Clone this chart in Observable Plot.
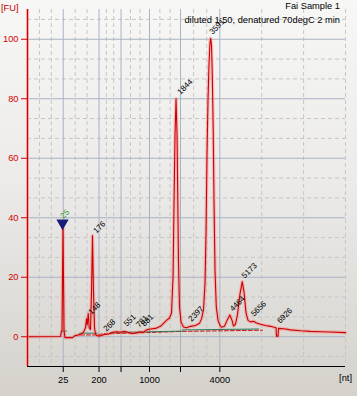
<!DOCTYPE html>
<html>
<head>
<meta charset="utf-8">
<script src="https://cdn.jsdelivr.net/npm/d3@7"></script>
<script src="https://cdn.jsdelivr.net/npm/@observablehq/plot@0.6"></script>
<style>
  html, body { margin: 0; padding: 0; }
  body { width: 357px; height: 396px; overflow: hidden;
         background: linear-gradient(to bottom, #f7f7f6 0%, #ecebea 45%, #d5d2cc 100%);
         font-family: "Liberation Sans", Arial, sans-serif; }
  #wrap { position: relative; width: 357px; height: 396px; }
  .lbl { position: absolute; font-size: 9.3px; line-height: 10px; white-space: nowrap; }
</style>
</head>
<body>
<div id="wrap">
  <div id="chart"></div>
  <div class="lbl" style="left:1px; top:3px; color:#c00000;">[FU]</div>
  <div class="lbl" style="right:17px; top:1px; color:#000;">Fai Sample 1</div>
  <div class="lbl" style="right:17px; top:15px; color:#000;">diluted 1:50, denatured 70degC 2 min</div>
</div>
<script>
// Migration time (s) and fluorescence (FU) of the electropherogram trace
const traceTime = [20.00, 24.95, 25.06, 25.18, 25.25, 25.33, 25.40, 25.48, 25.63, 26.75, 27.05, 27.95, 28.40, 28.70, 28.85, 28.96, 29.11, 29.26, 29.45, 29.60, 29.75, 29.90, 30.05, 30.20, 30.50, 30.95, 31.55, 32.15, 32.75, 33.35, 33.95, 34.55, 35.15, 35.75, 36.35, 36.80, 37.40, 37.85, 38.45, 39.20, 39.95, 40.40, 40.85, 41.30, 41.60, 41.83, 41.98, 42.13, 42.28, 42.43, 42.55, 42.65, 42.80, 43.03, 43.40, 43.85, 44.45, 45.20, 45.80, 46.10, 46.40, 46.63, 46.78, 46.93, 47.08, 47.23, 47.38, 47.48, 47.60, 47.72, 47.86, 47.98, 48.13, 48.32, 48.58, 48.88, 49.10, 49.55, 49.93, 50.35, 50.68, 50.90, 51.20, 51.50, 51.88, 52.21, 52.48, 52.78, 53.08, 53.45, 53.90, 54.35, 54.95, 55.70, 56.45, 57.28, 57.35, 57.58, 57.65, 58.70, 59.45, 60.95, 62.45, 63.95, 65.45, 67.70];
const traceFU   = [0, 0.1, 1.5, 2, 20, 38.5, 20, 2, -0.3, -0.3, 0.3, 0.8, 1.5, 3, 6, 4, 7.8, 3, 2.5, 15, 34, 15, 3, 0.8, 0.3, 0.3, 0.8, 0.9, 1.5, 1.7, 1.5, 1.8, 1.4, 1.1, 1.3, 1.6, 1.5, 2.3, 2.6, 2.8, 3.5, 4.5, 5.5, 6.3, 8, 20, 45, 68, 80, 68, 45, 25, 10, 5, 3.3, 3, 3.5, 3.8, 4.5, 6, 9, 18, 35, 62, 80, 92, 99, 100.3, 98, 88, 69, 45, 22, 10, 5.5, 3.8, 3.2, 3.5, 5.5, 7.3, 5.5, 3.6, 4.2, 7.5, 14.5, 18.5, 15, 8, 5.5, 5, 5.2, 4.6, 4.2, 3.8, 3.5, 3, 0.2, 0.2, 2.8, 2.6, 2.3, 2.0, 1.8, 1.7, 1.6, 1.4];

// Peak labels (size in nt) and where they sit
const peakLabels = ["148", "176", "268", "551", "781", "881", "1844", "2397", "3591", "4464", "5173", "5656", "6926"];
const peakTime   = [29.60, 30.35, 31.85, 34.91, 36.75, 37.55, 42.95, 44.60, 47.75, 50.81, 52.60, 54.00, 57.90];
const peakFU     = [7.35, 34.6, 1.66, 3.34, 3.0, 3.34, 81.3, 5.0, 101.5, 8.4, 19.5, 6.7, 4.35];

// Lower marker
const markerLabel = ["25"];
const markerTime = [25.25];
const markerFU = [38.2];
const markerLabelTime = [25.40];
const markerLabelFU = [39.6];

// Baselines
const greenSegId   = [0, 0, 1, 1, 2, 2, 3, 3];
const greenSegTime = [25.03, 25.85, 27.80, 30.50, 32.45, 43.25, 43.25, 54.65];
const greenSegFU   = [1.9, 1.9, 1.2, 1.2, 1.4, 1.9, 2.3, 2.6];
const dashBaseTime = [27.95, 30.50, 30.95, 43.25, 55.25];
const dashBaseFU   = [0.6, 0.6, 0.9, 1.8, 2.2];

// Axis ticks
const xTickTime  = [25.36, 30.73, 34.03, 38.30, 42.95, 48.85];
const xTickLabel = ["25", "200", "", "1000", "", "4000"];
const xStart = 20, xEnd = 67.7;
const yTicks = [0, 20, 40, 60, 80, 100];

const trace = traceTime.map((t, i) => ({t, fu: traceFU[i]}));
const peaks = peakLabels.map((s, i) => ({s, t: peakTime[i], fu: peakFU[i]}));
const greens = greenSegId.map((g, i) => ({g, t: greenSegTime[i], fu: greenSegFU[i]}));
const dashBase = dashBaseTime.map((t, i) => ({t, fu: dashBaseFU[i]}));
const tickMap = new Map(xTickTime.map((t, i) => [t, xTickLabel[i]]));

// grid subdivisions: each major interval split in thirds
const bounds = [xStart, ...xTickTime, xEnd];
const minorX = [];
for (let i = 0; i < bounds.length - 1; i++) {
  const a = bounds[i], b = bounds[i + 1];
  minorX.push(a + (b - a) / 3, a + 2 * (b - a) / 3);
}
minorX.push(xEnd);
const minorY = [];
for (let k = -1; k <= 16; k++) if (k % 3 !== 0) minorY.push(k * 20 / 3);

const red = "#d40000";
const chart = Plot.plot({
  width: 357,
  height: 396,
  marginLeft: 27,
  marginRight: 12,
  marginTop: 9,
  marginBottom: 30,
  style: {background: "transparent", fontFamily: "Liberation Sans, Arial, sans-serif", fontSize: "9.3px"},
  x: {domain: [xStart, xEnd]},
  y: {domain: [-10, 110]},
  marks: [
    Plot.gridX(minorX, {stroke: "#c6c6c6", strokeOpacity: 1, strokeDasharray: "4,3"}),
    Plot.gridY(minorY, {stroke: "#c6c6c6", strokeOpacity: 1, strokeDasharray: "4,3"}),
    Plot.gridX(xTickTime, {stroke: "#a9b2c3", strokeOpacity: 1}),
    Plot.gridY(yTicks, {stroke: "#a9b2c3", strokeOpacity: 1}),
    Plot.line(dashBase, {x: "t", y: "fu", stroke: "#d01010", strokeWidth: 1, strokeDasharray: "4,2"}),
    Plot.line(greens, {x: "t", y: "fu", z: "g", stroke: "#2f7a5c", strokeWidth: 1}),
    Plot.line(trace, {x: "t", y: "fu", stroke: "#ff6a6a", strokeWidth: 3.5, strokeOpacity: 0.35}),
    Plot.line(trace, {x: "t", y: "fu", stroke: "#cc0000", strokeWidth: 1.1}),
    Plot.text(peaks, {x: "t", y: "fu", text: "s", rotate: -45, textAnchor: "start", lineAnchor: "bottom", fontSize: 8, fill: "#000"}),
    Plot.dot(markerTime, {x: d => d, y: (d, i) => markerFU[i], symbol: "triangle", r: 3.6, rotate: 180, fill: "#1b1b7a", stroke: "#1b1b7a"}),
    Plot.text(markerLabel, {x: (d, i) => markerLabelTime[i], y: (d, i) => markerLabelFU[i], text: d => d, rotate: -45, textAnchor: "start", lineAnchor: "bottom", fontSize: 8, fill: "#2a9a2a"}),
    Plot.ruleX([xStart], {y1: -10, y2: 110, stroke: "#ff8080", strokeWidth: 3, strokeOpacity: 0.5}),
    Plot.ruleX([xStart], {y1: -10, y2: 110, stroke: red, strokeWidth: 1.2}),
    Plot.ruleY([-10], {stroke: "#000", strokeWidth: 1}),
    Plot.axisY(yTicks, {anchor: "left", tickSize: 6, tickPadding: 3, color: red, label: null, fontSize: 9.3}),
    Plot.axisX(xTickTime, {anchor: "bottom", tickSize: 6, tickPadding: 4, tickFormat: d => tickMap.get(d), label: null, color: "#000", fontSize: 9.3}),
    Plot.text(["[nt]"], {x: [xEnd], frameAnchor: "bottom", dy: 14, text: d => d, fill: "#000", fontSize: 9.3})
  ]
});
document.getElementById("chart").appendChild(chart);
</script>
</body>
</html>
